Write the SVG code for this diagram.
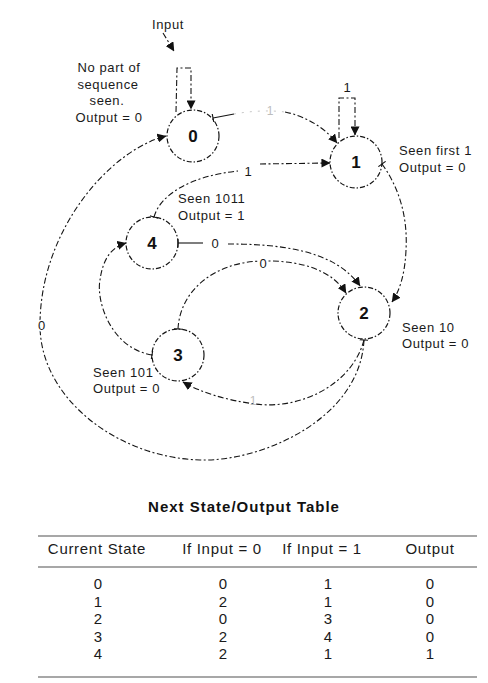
<svg xmlns="http://www.w3.org/2000/svg" width="488" height="683" viewBox="0 0 488 683">
<style>
  .bg { fill: #ffffff; }
  .state { fill: none; stroke: #151515; stroke-width: 1.2; stroke-dasharray: 5 2 1.5 2; }
  .num { font-family: "Liberation Sans", Arial, sans-serif; font-size: 17px; font-weight: bold; fill: #111; text-anchor: middle; }
  .desc { font-family: "Liberation Sans", Arial, sans-serif; font-size: 13px; letter-spacing: 0.6px; fill: #1a1a1a; }
  .mid { text-anchor: middle; }
  .edge { fill: none; stroke: #151515; stroke-width: 1.1; stroke-dasharray: 6 2.5 2 2.5; }
  .solid { fill: none; stroke: #151515; stroke-width: 1.1; }
  .faint { fill: none; stroke: #c8c8c8; stroke-width: 1; stroke-dasharray: 2 6; }
  .elabel { font-family: "Liberation Sans", Arial, sans-serif; font-size: 13px; fill: #1a1a1a; text-anchor: middle; paint-order: stroke; stroke: #fff; stroke-width: 3px; }
  .flabel { font-family: "Liberation Sans", Arial, sans-serif; font-size: 12px; fill: #bdbdbd; text-anchor: middle; }
  .title { font-family: "Liberation Sans", Arial, sans-serif; font-size: 15px; font-weight: bold; letter-spacing: 1px; fill: #111; text-anchor: middle; }
  .th { font-family: "Liberation Sans", Arial, sans-serif; font-size: 15px; letter-spacing: 0.7px; fill: #1a1a1a; text-anchor: middle; }
  .td { font-family: "Liberation Sans", Arial, sans-serif; font-size: 15px; fill: #1a1a1a; text-anchor: middle; }
  .rule { stroke: #8a8a8a; stroke-width: 1.6; }
</style>
<defs>
  <marker id="arr" viewBox="0 0 10 10" refX="9.5" refY="5" markerWidth="9" markerHeight="9" markerUnits="userSpaceOnUse" orient="auto">
    <path d="M0,0 L10,5 L0,10 z" fill="#111"/>
  </marker>
  <marker id="tick" viewBox="0 0 2 10" refX="1" refY="5" markerWidth="2" markerHeight="9" markerUnits="userSpaceOnUse" orient="auto">
    <path d="M1,0 V10" stroke="#111" stroke-width="1.2"/>
  </marker>
</defs>
<rect class="bg" x="0" y="0" width="488" height="683"/>

<g id="connectors">
  <path id="e-input" class="edge" d="M163,33 L174,51" marker-end="url(#arr)"/>
  <path id="e00" class="edge" d="M176,112 L177,68 L191,68 L191,109" marker-end="url(#arr)"/>
  <path id="e11" class="edge" d="M339,138 L339,98 L355,98 L355,135" marker-end="url(#arr)"/>
  <path class="solid" d="M213,118 L234,114" marker-start="url(#tick)"/>
  <path class="faint" d="M234,114 C250,111 270,110 285,112"/>
  <path id="e01" class="edge" d="M285,112 C305,116 324,127 337,143" marker-end="url(#arr)"/>
  <path class="edge" d="M154,217 C160,195 190,176 238,171" marker-start="url(#tick)"/>
  <path id="e41" class="edge" d="M260,164 L330,163" marker-end="url(#arr)"/>
  <path class="solid" d="M178,243 L203,243" marker-start="url(#tick)"/>
  <path id="e42" class="edge" d="M228,244 C280,244 335,250 360,286" marker-end="url(#arr)"/>
  <path id="e32" class="edge" d="M178,329 C180,290 215,262 262,261 C305,260 333,272 346,293" marker-start="url(#tick)" marker-end="url(#arr)"/>
  <path id="e12" class="edge" d="M382,164 C398,186 408,215 406,250 C405,275 399,292 392,302" marker-start="url(#tick)" marker-end="url(#arr)"/>
  <path id="e20" class="edge" d="M364,340 C360,420 260,462 200,460 C120,458 40,400 40,325 C40,230 110,150 166,136" marker-start="url(#tick)" marker-end="url(#arr)"/>
  <path id="e23" class="edge" d="M364,340 C352,385 300,410 255,404 C225,400 200,392 183,382" marker-end="url(#arr)"/>
  <path id="e34" class="edge" d="M152,355 C110,348 96,300 100,280 C103,258 112,247 126,243" marker-start="url(#tick)" marker-end="url(#arr)"/>

  <text class="desc mid" x="168" y="29">Input</text>
  <text class="elabel" x="347" y="92">1</text>
  <text class="flabel" x="270" y="115">1</text>
  <text class="elabel" x="248" y="176">1</text>
  <text class="elabel" x="215" y="248">0</text>
  <text class="elabel" x="263" y="268">0</text>
  <text class="elabel" x="41.5" y="330">0</text>
  <text class="flabel" x="253" y="405">1</text>
</g>

<g id="state0">
  <circle class="state" cx="193" cy="136" r="26"/>
  <text class="num" x="193" y="142">0</text>
  <text class="desc mid" x="109" y="72">No part of</text>
  <text class="desc mid" x="108" y="89">sequence</text>
  <text class="desc mid" x="107" y="105">seen.</text>
  <text class="desc mid" x="109" y="122">Output = 0</text>
</g>

<g id="state1">
  <circle class="state" cx="356" cy="162" r="26"/>
  <text class="num" x="356" y="168">1</text>
  <text class="desc" x="399" y="155">Seen first 1</text>
  <text class="desc" x="399" y="172">Output = 0</text>
</g>

<g id="state4">
  <circle class="state" cx="152" cy="243" r="26"/>
  <text class="num" x="152" y="249">4</text>
  <text class="desc" x="178" y="203">Seen 1011</text>
  <text class="desc" x="178" y="220">Output = 1</text>
</g>

<g id="state2">
  <circle class="state" cx="364" cy="313" r="26"/>
  <text class="num" x="364" y="319">2</text>
  <text class="desc" x="402" y="332">Seen 10</text>
  <text class="desc" x="402" y="348">Output = 0</text>
</g>

<g id="state3">
  <circle class="state" cx="178" cy="355" r="26"/>
  <text class="num" x="178" y="361">3</text>
  <text class="desc" x="93" y="377">Seen 101</text>
  <text class="desc" x="93" y="393">Output = 0</text>
</g>

<g id="table">
  <text class="title" x="244" y="512">Next State/Output Table</text>
  <line class="rule" x1="38" y1="536" x2="477" y2="536"/>
  <line class="rule" x1="38" y1="567" x2="477" y2="567"/>
  <line class="rule" x1="38" y1="677" x2="477" y2="677"/>
  <text class="th" x="97" y="554">Current State</text>
  <text class="th" x="222" y="554">If Input = 0</text>
  <text class="th" x="322" y="554">If Input = 1</text>
  <text class="th" x="430" y="554">Output</text>

  <text class="td" x="98" y="589">0</text><text class="td" x="223" y="589">0</text><text class="td" x="328" y="589">1</text><text class="td" x="430" y="589">0</text>
  <text class="td" x="98" y="606.5">1</text><text class="td" x="223" y="606.5">2</text><text class="td" x="328" y="606.5">1</text><text class="td" x="430" y="606.5">0</text>
  <text class="td" x="98" y="624">2</text><text class="td" x="223" y="624">0</text><text class="td" x="328" y="624">3</text><text class="td" x="430" y="624">0</text>
  <text class="td" x="98" y="641.5">3</text><text class="td" x="223" y="641.5">2</text><text class="td" x="328" y="641.5">4</text><text class="td" x="430" y="641.5">0</text>
  <text class="td" x="98" y="659">4</text><text class="td" x="223" y="659">2</text><text class="td" x="328" y="659">1</text><text class="td" x="430" y="659">1</text>
</g>
</svg>
